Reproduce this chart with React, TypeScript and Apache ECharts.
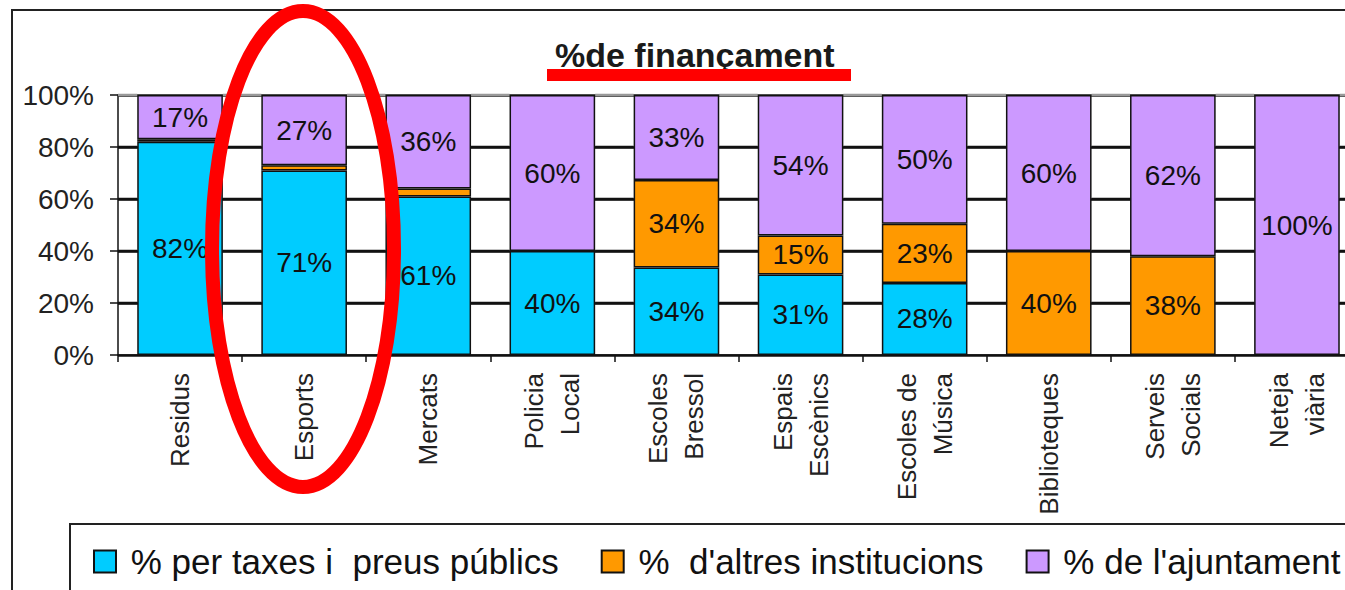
import React, { useEffect, useRef } from "react";
import * as echarts from "echarts";

const categories = [
  "Residus",
  "Esports",
  "Mercats",
  "Policia\nLocal",
  "Escoles\nBressol",
  "Espais\nEscènics",
  "Escoles de\nMúsica",
  "Biblioteques",
  "Serveis\nSocials",
  "Neteja\nviària",
];
const taxes = [82, 71, 61, 40, 34, 31, 28, 0, 0, 0];
const altres = [1, 2, 3, 0, 34, 15, 23, 40, 38, 0];
const ajuntament = [17, 27, 36, 60, 33, 54, 50, 60, 62, 100];
const yTicks = [0, 20, 40, 60, 80, 100];

const seriesNames = ["% per taxes i  preus públics", "%  d'altres institucions", "% de l'ajuntament"];
const seriesColors = ["#00CCFF", "#FF9900", "#CC99FF"];

const FONT = "'Liberation Sans', Arial, sans-serif";
const BAR_RATIO = 0.69;

export default function App() {
  const ref = useRef<HTMLDivElement>(null);

  useEffect(() => {
    if (!ref.current) return;
    const chart = echarts.init(ref.current, undefined, { renderer: "svg" });
    const all = [taxes, altres, ajuntament];
    const totals = categories.map((_, i) => all.reduce((s, arr) => s + arr[i], 0));

    const series: any[] = all.map((arr, si) => ({
      name: seriesNames[si],
      type: "bar",
      stack: "total",
      barWidth: BAR_RATIO * 100 + "%",
      z: 5,
      itemStyle: { color: seriesColors[si], borderColor: "#111", borderWidth: 1.5 },
      label: {
        show: true,
        position: "inside",
        fontFamily: FONT,
        fontSize: 28,
        color: "#111",
        formatter: (p: any) => (p.data && p.data.raw >= 5 ? p.data.raw + "%" : ""),
      },
      data: arr.map((v, i) => (v > 0 ? { value: (v / totals[i]) * 100, raw: v } : null)),
    }));

    // horizontal gridlines as thin rects in the gaps between bars, via the axis scales
    series.push({
      type: "custom",
      name: "gridlines",
      z: 6,
      silent: true,
      clip: false,
      encode: { x: 0, y: 1 },
      data: yTicks.slice(1).map((v) => [0, v]),
      renderItem: (params: any, api: any) => {
        const cs = params.coordSys;
        const v = api.value(1);
        const y = api.coord([0, v])[1];
        const band = api.size([1, 0])[0];
        const half = (band * BAR_RATIO) / 2;
        const edges: number[] = [cs.x];
        for (let i = 0; i < categories.length; i++) {
          const cx = api.coord([i, v])[0];
          edges.push(cx - half, cx + half);
        }
        edges.push(cs.x + cs.width);
        const children: any[] = [];
        for (let k = 0; k < edges.length; k += 2) {
          children.push({
            type: "rect",
            shape: { x: edges[k], y: y - 1.25, width: edges[k + 1] - edges[k], height: 2.5 },
            style: { fill: v === 100 ? "#999" : "#111" },
          });
        }
        return { type: "group", children };
      },
    });

    chart.setOption({
      animation: false,
      title: {
        text: "%de finançament",
        left: 550,
        top: 33,
        textStyle: { fontFamily: FONT, fontSize: 34, fontWeight: "bold", color: "#1a1a1a" },
      },
      legend: {
        left: 70,
        top: 524,
        padding: [20, 40, 40, 23],
        borderColor: "#222",
        borderWidth: 2,
        itemWidth: 22,
        itemHeight: 22,
        itemGap: 42,
        icon: "rect",
        formatter: (n: string) => " " + n,
        textStyle: { fontFamily: FONT, fontSize: 35, color: "#111" },
        data: seriesNames,
      },
      grid: { left: 118, top: 95, width: 1241, height: 260 },
      xAxis: {
        type: "category",
        data: categories,
        axisLine: { lineStyle: { color: "#111", width: 1.5 } },
        axisTick: { show: true, length: 7, lineStyle: { color: "#111", width: 1.5 } },
        axisLabel: {
          rotate: 90,
          interval: 0,
          margin: 18,
          fontFamily: FONT,
          fontSize: 26,
          lineHeight: 36,
          color: "#222",
        },
        splitLine: { show: false },
      },
      yAxis: {
        type: "value",
        min: yTicks[0],
        max: yTicks[yTicks.length - 1],
        interval: 20,
        axisLine: { show: true, lineStyle: { color: "#111", width: 1.5 } },
        axisTick: { show: true, length: 8, lineStyle: { color: "#111", width: 1.5 } },
        axisLabel: {
          margin: 24,
          fontFamily: FONT,
          fontSize: 28,
          color: "#222",
          formatter: "{value}%",
        },
        splitLine: { show: true, lineStyle: { color: "#111", width: 2.5 } },
      },
      series,
      graphic: [
        {
          type: "rect",
          z: 100,
          silent: true,
          shape: { x: 547, y: 69, width: 304, height: 12 },
          style: { fill: "#FF0000" },
        },
        {
          type: "ellipse",
          z: 100,
          silent: true,
          shape: { cx: 303, cy: 249, rx: 91, ry: 238 },
          style: { fill: null, stroke: "#FF0000", lineWidth: 14 },
        },
      ],
    });
    return () => chart.dispose();
  }, []);

  return (
    <div
      style={{
        position: "fixed",
        left: 0,
        top: 0,
        width: 1345,
        height: 590,
        overflow: "hidden",
        background: "#fff",
      }}
    >
      <div
        style={{
          position: "absolute",
          left: 11,
          top: 9,
          width: 1600,
          height: 800,
          border: "2px solid #222",
        }}
      />
      <div ref={ref} style={{ position: "absolute", left: 0, top: 0, width: 1400, height: 590 }} />
    </div>
  );
}
